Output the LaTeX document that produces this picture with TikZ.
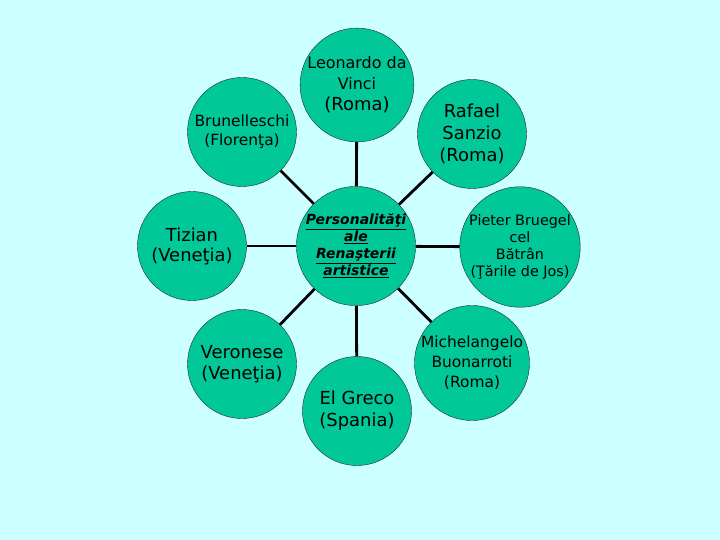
\documentclass[tikz,border=0pt]{standalone}
\usepackage{fontspec}
\setmainfont{DejaVu Sans}
\usepackage{tikz}
\usetikzlibrary{positioning}

\definecolor{bgcyan}{RGB}{204,255,255}
\definecolor{discgreen}{RGB}{0,200,152}

\begin{document}
\begin{tikzpicture}[
    x=1bp, y=-1bp,
    person/.style={circle, draw=black!85, fill=discgreen, minimum size=109bp, inner sep=0pt, align=center},
    link/.style={line width=2.8bp}
]
\fill[bgcyan] (0,0) rectangle (720,540);

\node[person, font=\fontsize{14}{17}\selectfont\bfseries\itshape] (centre) at (356,246)
    {\underline{Personalităţi}\\\underline{ale}\\\underline{Renaşterii}\\\underline{artistice}};

\node[person, font=\fontsize{16}{21}\selectfont] (leonardo) at (357,85)
    {Leonardo da\\Vinci\\{\fontsize{18}{21}\selectfont (Roma)}};
\node[person, font=\fontsize{18}{22}\selectfont] (rafael) at (472,134) {Rafael\\Sanzio\\(Roma)};
\node[person, font=\fontsize{14.4}{17}\selectfont] (bruegel) at (520,247) {Pieter Bruegel\\cel\\Bătrân\\(Ţările de Jos)};
\node[person, font=\fontsize{15.5}{20}\selectfont] (michelangelo) at (472,363) {Michelangelo\\Buonarroti\\(Roma)};
\node[person, font=\fontsize{18}{22}\selectfont] (greco) at (357,411) {El Greco\\(Spania)};
\node[person, font=\fontsize{18}{21}\selectfont] (veronese) at (242,364) {Veronese\\(Veneţia)};
\node[person, font=\fontsize{18}{20}\selectfont] (tizian) at (192,246) {Tizian\\(Veneţia)};
\node[person, font=\fontsize{15.5}{19}\selectfont] (brunelleschi) at (242,132) {Brunelleschi\\(Florenţa)};

\draw[link] (centre) -- (leonardo);
\draw[link] (centre) -- (rafael);
\draw[link] (centre) -- (bruegel);
\draw[link] (centre) -- (michelangelo);
\draw[link] (centre) -- (greco);
\draw[link] (centre) -- (veronese);
\draw[link] (centre) -- (tizian);
\draw[link] (centre) -- (brunelleschi);
\end{tikzpicture}
\end{document}
